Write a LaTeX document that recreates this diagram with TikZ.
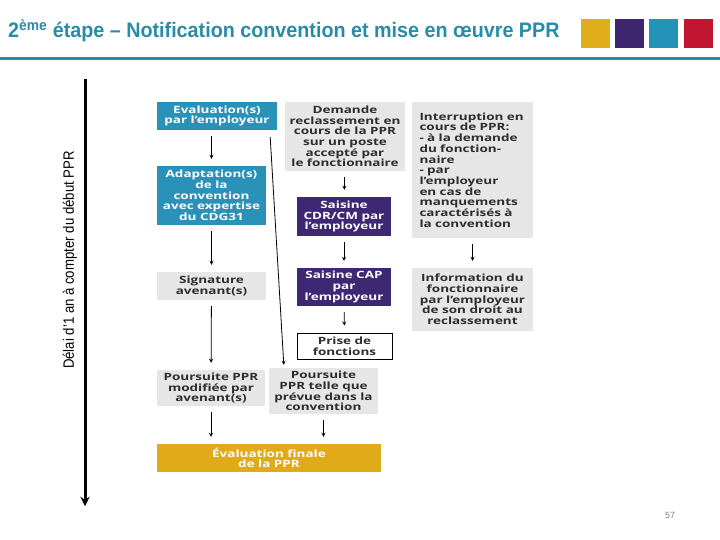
\documentclass[tikz,border=0pt]{standalone}
\usepackage{fontspec}
\setmainfont{Liberation Sans}
\newfontfamily\boxfont[FakeStretch=1.35]{Open Sans}
\newfontfamily\titlefont[FakeStretch=0.94]{Liberation Sans}
\newfontfamily\narrowfont[FakeStretch=0.88]{Liberation Sans}
\usetikzlibrary{shapes, arrows, positioning, calc}

\definecolor{titleteal}{RGB}{40,140,168}
\definecolor{boxblue}{RGB}{42,145,185}
\definecolor{boxpurple}{RGB}{63,40,115}
\definecolor{boxgrey}{RGB}{230,230,230}
\definecolor{boxgold}{RGB}{225,170,25}
\definecolor{boxtext}{RGB}{45,45,45}
\definecolor{sqyellow}{RGB}{224,174,26}
\definecolor{sqpurple}{RGB}{62,38,110}
\definecolor{sqblue}{RGB}{35,148,184}
\definecolor{sqred}{RGB}{192,20,48}

\begin{document}
\begin{tikzpicture}[x=1pt, y=-1pt, >=stealth,
    box/.style={rectangle, align=center, inner sep=0pt, font=\boxfont\bfseries\fontsize{10}{10.7}\selectfont},
    bluebox/.style={box, fill=boxblue, text=white},
    purplebox/.style={box, fill=boxpurple, text=white},
    greybox/.style={box, fill=boxgrey, text=boxtext},
    square/.style={rectangle, minimum width=29, minimum height=29, inner sep=0pt},
    flow/.style={->, line width=0.8pt, shorten <=6pt, shorten >=7pt}]
    \useasboundingbox (0,0) rectangle (720,540);

    % Header
    \node (title) [anchor=west, inner sep=0pt, text=titleteal, font=\titlefont\bfseries\fontsize{21}{24}\selectfont] at (8,31) {2\textsuperscript{ème} étape – Notification convention et mise en œuvre PPR};
    \node (yellow) [square, fill=sqyellow] at (595,34) {};
    \node (purple) [square, fill=sqpurple, right=5 of yellow] {};
    \node (blue) [square, fill=sqblue, right=5 of purple] {};
    \node (red) [square, fill=sqred, right=5 of blue] {};
    \draw[titleteal, line width=3pt] (0,59) -- (720,59);

    % Time axis
    \coordinate (axistop) at (85,79);
    \coordinate (axisend) at (85,506);
    \draw[->, line width=3pt] (axistop) -- (axisend);
    \node (delai) [rotate=90, font=\narrowfont\fontsize{15}{17}\selectfont] at (70,260) {Délai d’1 an à compter du début PPR};

    % Nodes, left column
    \node (eval) [bluebox, minimum width=120, minimum height=28] at (217,116) {Evaluation(s)\\par l’employeur};
    \node (adapt) [bluebox, minimum width=109, minimum height=59] at (211.5,195.5) {Adaptation(s)\\de la\\convention\\avec expertise\\du CDG31};
    \node (sign) [greybox, minimum width=109, minimum height=28] at (211.5,286) {Signature\\avenant(s)};
    \node (modif) [greybox, minimum width=108, minimum height=36] at (211,388) {Poursuite PPR\\modifiée par\\avenant(s)};
    \node (final) [box, fill=boxgold, text=white, minimum width=224, minimum height=28] at (269,458) {Évaluation finale\\de la PPR};

    % Nodes, middle column
    \node (demande) [greybox, minimum width=120, minimum height=69] at (345,136.5) {Demande\\reclassement en\\cours de la PPR\\sur un poste\\accepté par\\le fonctionnaire};
    \node (cdr) [purplebox, minimum width=94, minimum height=39] at (344,216.5) {Saisine\\CDR/CM par\\l’employeur};
    \node (cap) [purplebox, minimum width=94, minimum height=38] at (344,287) {Saisine CAP\\par\\l’employeur};
    \node (prise) [box, draw=black, line width=0.8pt, text=boxtext, minimum width=95, minimum height=26] at (344.5,346) {Prise de\\fonctions};
    \node (prevue) [greybox, minimum width=109, minimum height=46] at (323.5,391) {Poursuite\\PPR telle que\\prévue dans la\\convention};

    % Nodes, right column
    \node (interr) [greybox, align=left, text width=106, minimum width=121, minimum height=136] at (472.5,170) {Interruption en\\ cours de PPR:\\- à la demande\\du fonction-\\naire\\- par\\l’employeur\\en cas de\\manquements\\caractérisés à\\la convention};
    \node (info) [greybox, minimum width=121, minimum height=63] at (472.5,299.5) {Information du\\fonctionnaire\\par l’employeur\\de son droit au\\reclassement};

    % Edges
    \draw[flow] (eval.south -| adapt) -- (adapt);
    \draw[flow] (adapt) -- (sign);
    \draw[flow] (sign) -- (modif);
    \draw[flow] (modif) -- (modif |- final.north);
    \draw[flow] (demande) -- (cdr);
    \draw[flow] (cdr) -- (cap);
    \draw[flow] (cap) -- (prise);
    \draw[flow] (prevue) -- (prevue |- final.north);
    \draw[flow] (interr.south -| info) -- (info);
    \draw[->, line width=0.8pt] ($(eval.south east)+(-7,7)$) -- ($(prevue.north west)+(15,-3)$);

    % Page number
    \node (page) [text=gray, font=\fontsize{9}{11}\selectfont] at (670,515) {57};
\end{tikzpicture}
\end{document}
